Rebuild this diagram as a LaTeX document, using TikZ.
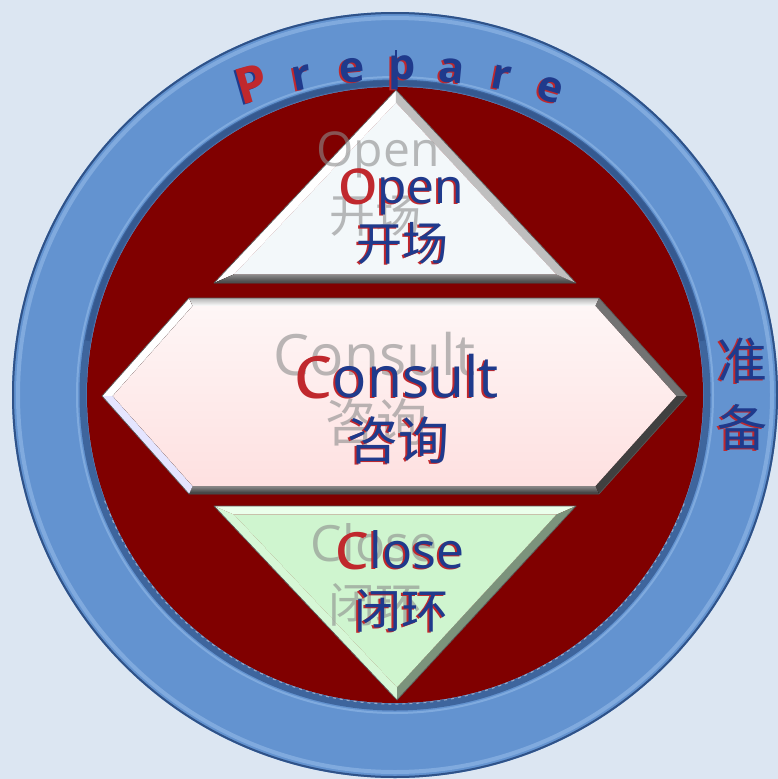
\documentclass[tikz,border=0pt]{standalone}
\usepackage{fontspec}
\setmainfont{Open Sans}
\newfontfamily\cjk{Noto Sans CJK SC}
\usetikzlibrary{calc}
\definecolor{bg}{HTML}{DCE6F2}
\definecolor{ringblue}{HTML}{6393D0}
\definecolor{ringdark}{HTML}{2F5288}
\definecolor{ringlight}{HTML}{8CB4E4}
\definecolor{deepred}{HTML}{800000}
\definecolor{txtblue}{HTML}{1F3A8C}
\definecolor{txtred}{HTML}{C0282D}
\definecolor{ghost}{HTML}{8C8C8C}
\definecolor{openface}{HTML}{F3F8FA}
\definecolor{consface}{HTML}{FDF0F0}
\definecolor{closeface}{HTML}{CFF5CF}
\newcommand\fsz[1]{\fontsize{#1}{#1}\selectfont}
\newcommand\prepl[8]{%
  \node[lbl,anchor=base,rotate=#4,text=#7] (#1s) at (#2-2,#3+1) {\fsz{#8}#5};
  \node[lbl,anchor=base,rotate=#4,text=#6] (#1) at (#2,#3) {\fsz{#8}#5};}
\tikzset{
  lbl/.style={inner sep=0pt,outer sep=0pt},
  ghosttxt/.style={lbl,text=ghost,opacity=0.6},
  shadowtxt/.style={lbl,text=txtred},
  edgeline/.style={draw=black!65,line width=0.7pt,line join=round},
}
\begin{document}
\begin{tikzpicture}[x=1pt,y=-1pt]
\useasboundingbox (0,0) rectangle (778,779);
\fill[bg] (0,0) rectangle (778,779);
\coordinate (O) at (395,395);
% ---- blue ring ----
\fill[ringblue] (O) circle[radius=383pt];
\draw[ringlight!70!ringblue,line width=4pt] (O) circle[radius=377pt];
\draw[ringdark,line width=2pt] (O) circle[radius=382pt];
\draw[ringlight,line width=2pt,opacity=.7] (O) circle[radius=318pt];
\draw[ringdark,line width=7pt,opacity=.7] (O) circle[radius=312pt];
\draw[ringdark,line width=5pt,opacity=.6] ([shift={(170:312pt)}]O) arc[start angle=170,end angle=10,radius=312pt];
\fill[deepred] (O) circle[radius=308pt];
\draw[white,line width=1pt,opacity=.45,dash pattern=on 3pt off 4pt] ([shift={(200:309pt)}]O) arc[start angle=200,end angle=340,radius=309pt];
% ---- top triangle (Open) ----
\coordinate (tA) at (396,90);
\coordinate (tB) at (214,283);
\coordinate (tC) at (576,283);
\coordinate (tI) at (395.7,204.6);
\coordinate (tA2) at ($(tI)!0.89!(tA)$);
\coordinate (tB2) at ($(tI)!0.89!(tB)$);
\coordinate (tC2) at ($(tI)!0.89!(tC)$);
\fill[white] (tA) -- (tB) -- (tB2) -- (tA2) -- cycle;
\fill[top color=black!45,bottom color=black!75] (tB) -- (tC) -- (tC2) -- (tB2) -- cycle;
\fill[black!25] (tC) -- (tA) -- (tA2) -- (tC2) -- cycle;
\fill[openface] (tA2) -- (tB2) -- (tC2) -- cycle;
\draw[edgeline] (tA) -- (tB) -- (tC) -- cycle;
\draw[txtblue,line width=1.2pt] (396,50) -- (tA);
% ---- hexagon (Consult) ----
\coordinate (hL) at (102,396);
\coordinate (hTL) at (189,298);
\coordinate (hTR) at (599,298);
\coordinate (hR) at (687,396);
\coordinate (hBR) at (599,494);
\coordinate (hBL) at (189,494);
\coordinate (hL2) at (112.7,396);
\coordinate (hTL2) at (192.6,306);
\coordinate (hTR2) at (595.4,306);
\coordinate (hR2) at (676.3,396);
\coordinate (hBR2) at (595.4,486);
\coordinate (hBL2) at (192.6,486);
\fill[white] (hL) -- (hTL) -- (hTL2) -- (hL2) -- cycle;
\fill[top color=black!30,bottom color=white] (hTL) -- (hTR) -- (hTR2) -- (hTL2) -- cycle;
\fill[black!55] (hTR) -- (hR) -- (hR2) -- (hTR2) -- cycle;
\fill[black!75] (hR) -- (hBR) -- (hBR2) -- (hR2) -- cycle;
\fill[top color=black!45,bottom color=black!80] (hBR) -- (hBL) -- (hBL2) -- (hBR2) -- cycle;
\fill[white!90!blue] (hBL) -- (hL) -- (hL2) -- (hBL2) -- cycle;
\fill[top color=consface!60!white,bottom color=consface!85!red!60!white] (hL2) -- (hTL2) -- (hTR2) -- (hR2) -- (hBR2) -- (hBL2) -- cycle;
\draw[edgeline] (hL) -- (hTL) -- (hTR) -- (hR) -- (hBR) -- (hBL) -- cycle;
% ---- bottom triangle (Close) ----
\coordinate (bD) at (214,506);
\coordinate (bE) at (576,506);
\coordinate (bF) at (397,700);
\coordinate (bI) at (396.4,584.7);
\coordinate (bD2) at ($(bI)!0.89!(bD)$);
\coordinate (bE2) at ($(bI)!0.89!(bE)$);
\coordinate (bF2) at ($(bI)!0.89!(bF)$);
\fill[green!8!white] (bD) -- (bE) -- (bE2) -- (bD2) -- cycle;
\fill[closeface!60!black] (bE) -- (bF) -- (bF2) -- (bE2) -- cycle;
\fill[closeface!85!white] (bF) -- (bD) -- (bD2) -- (bF2) -- cycle;
\fill[closeface] (bD2) -- (bE2) -- (bF2) -- cycle;
\draw[edgeline] (bD) -- (bE) -- (bF) -- cycle;
% ---- ghost texts ----
\node[ghosttxt,anchor=base] (gopen) at (378,166) {\fsz{48}Open};
\node[ghosttxt] (gkc) at (375,215) {\cjk\fsz{46}开场};
\node[ghosttxt,anchor=base] (gcons) at (375,375) {\fsz{57}Consult};
\node[ghosttxt] (gzx) at (376,422) {\cjk\fsz{51}咨询};
\node[ghosttxt,anchor=base] (gclose) at (374,561) {\fsz{50}Close};
\node[ghosttxt] (gbh) at (375,605) {\cjk\fsz{47}闭环};
% ---- main texts ----
\node[shadowtxt,anchor=base] (opens) at (400,204) {\fsz{48}Open};
\node[lbl,anchor=base] (open) at (402,203) {\fsz{48}\textcolor{txtred}{O}\textcolor{txtblue}{pen}};
\node[shadowtxt] (kcs) at (400,244) {\cjk\fsz{46}开场};
\node[lbl,text=txtblue] (kc) at (402,243) {\cjk\fsz{46}开场};
\node[shadowtxt,anchor=base] (conss) at (396,398) {\fsz{57}Consult};
\node[lbl,anchor=base] (cons) at (398,397) {\fsz{57}\textcolor{txtred}{C}\textcolor{txtblue}{onsult}};
\node[shadowtxt] (zxs) at (396,441) {\cjk\fsz{51}咨询};
\node[lbl,text=txtblue] (zx) at (398,440) {\cjk\fsz{51}咨询};
\node[shadowtxt,anchor=base] (closes) at (399,569) {\fsz{50}Close};
\node[lbl,anchor=base] (close) at (401,568) {\fsz{50}\textcolor{txtred}{C}\textcolor{txtblue}{lose}};
\node[shadowtxt] (bhs) at (399,612) {\cjk\fsz{47}闭环};
\node[lbl,text=txtblue] (bh) at (401,611) {\cjk\fsz{47}闭环};
% ---- Prepare on the ring ----
\prepl{pa}{256.7}{101}{16}{\bfseries P}{txtred}{txtblue}{50}
\prepl{pb}{304.3}{89.5}{10.6}{\bfseries r}{txtblue}{txtred}{43}
\prepl{pc}{352.9}{82.1}{5.2}{\bfseries e}{txtblue}{txtred}{43}
\prepl{pd}{401.8}{80}{-0.2}{\bfseries p}{txtblue}{txtred}{43}
\prepl{pe}{450.8}{82.5}{-5.6}{\bfseries a}{txtblue}{txtred}{43}
\prepl{pf}{499.2}{89.6}{-11}{\bfseries r}{txtblue}{txtred}{43}
\prepl{pg}{546.8}{101.2}{-16.4}{\bfseries e}{txtblue}{txtred}{43}
% ---- 准备 ----
\node[shadowtxt] (zhuns) at (740,362) {\cjk\fsz{50}准};
\node[lbl,text=txtblue] (zhun) at (742,361) {\cjk\fsz{50}准};
\node[shadowtxt] (beis) at (740,428) {\cjk\fsz{50}备};
\node[lbl,text=txtblue] (bei) at (742,427) {\cjk\fsz{50}备};
\end{tikzpicture}
\end{document}
